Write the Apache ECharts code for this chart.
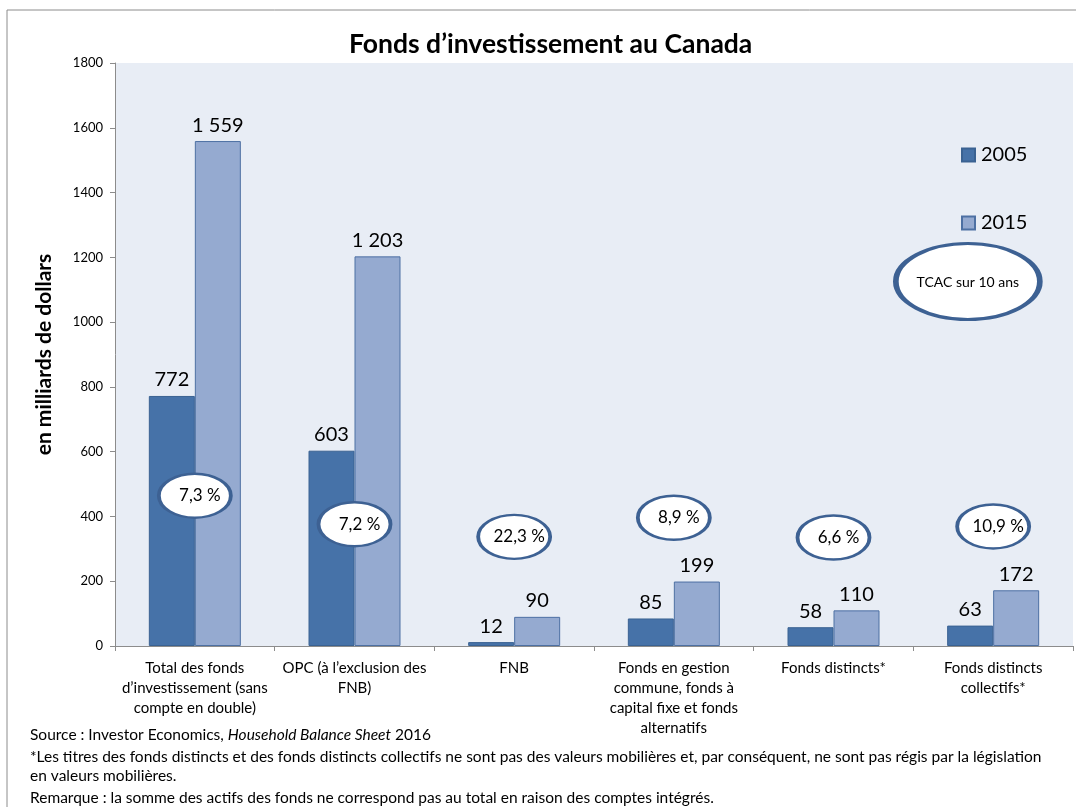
<!DOCTYPE html>
<html lang="fr">
<head>
    <meta charset="utf-8">
    <title>Fonds d’investissement au Canada</title>
    <script src="https://cdn.jsdelivr.net/npm/echarts@6/dist/echarts.min.js"></script>
    <style>
        html, body, #main {
            width: 100%;
            height: 100%;
            margin: 0;
            padding: 0;
            overflow: hidden;
            background-color: #ffffff;
        }
    </style>
</head>
<body>
<div id="main"></div>
<script>
    // données
    var categories = [
        'Total des fonds\nd’investissement (sans\ncompte en double)',
        'OPC (à l’exclusion des\nFNB)',
        'FNB',
        'Fonds en gestion\ncommune, fonds à\ncapital fixe et fonds\nalternatifs',
        'Fonds distincts*',
        'Fonds distincts\ncollectifs*'
    ];
    var values2005 = [772, 603, 12, 85, 58, 63];
    var values2015 = [1559, 1203, 90, 199, 110, 172];
    var tcac = ['7,3 %', '7,2 %', '22,3 %', '8,9 %', '6,6 %', '10,9 %'];
    // hauteur (en unités de l'axe) où sont posées les bulles TCAC
    var tcacLevel = [464, 376, 337, 396, 335, 369];
    var yTicks = [0, 200, 400, 600, 800, 1000, 1200, 1400, 1600, 1800];

    var font = 'Lato';
    var dark = '#4672a8';
    var light = '#95aad0';
    var ring = '#3d6193';

    function fmt(v) {
        var s = String(v);
        if (v >= 1000) s = s.slice(0, s.length - 3) + ' ' + s.slice(-3);
        return s;
    }

    var bubbles = [];
    for (var i = 0; i < tcac.length; i++) {
        bubbles.push([i, tcacLevel[i]]);
    }

    var myChart = echarts.init(document.getElementById('main'));
    var option = {
        backgroundColor: '#ffffff',
        textStyle: {fontFamily: font},
        animation: false,
        title: {
            text: 'Fonds d’investissement au Canada',
            left: 344,
            top: 26,
            textStyle: {fontFamily: font, fontSize: 26.5, fontWeight: 'bold', color: '#000'}
        },
        legend: {
            data: ['2005', '2015'],
            orient: 'vertical',
            left: 956,
            top: 140,
            itemWidth: 13,
            itemHeight: 13,
            itemGap: 48,
            icon: 'rect',
            textStyle: {fontFamily: font, fontSize: 20, color: '#000', padding: [0, 0, 0, 1]}
        },
        grid: {
            left: 115,
            right: 3,
            top: 63,
            bottom: 161,
            show: true,
            backgroundColor: '#e8edf5',
            borderWidth: 0
        },
        xAxis: {
            type: 'category',
            data: categories,
            axisLine: {lineStyle: {color: '#8c8c8c'}},
            axisTick: {show: true, length: 5, lineStyle: {color: '#8c8c8c'}},
            axisLabel: {
                interval: 0,
                margin: 12,
                fontFamily: font,
                fontSize: 15,
                lineHeight: 20,
                color: '#000'
            }
        },
        yAxis: {
            type: 'value',
            min: 0,
            max: 1800,
            interval: 200,
            name: 'en milliards de dollars',
            nameLocation: 'middle',
            nameRotate: 90,
            nameGap: 60,
            nameTextStyle: {fontFamily: font, fontSize: 21, fontWeight: 'bold', color: '#000'},
            axisLine: {show: true, lineStyle: {color: '#8c8c8c'}},
            axisTick: {show: true, length: 5, lineStyle: {color: '#8c8c8c'}},
            splitLine: {show: false},
            axisLabel: {
                margin: 12,
                fontFamily: font,
                fontSize: 13,
                color: '#000',
                formatter: function (v) {
                    return yTicks.indexOf(v) >= 0 ? String(v) : '';
                }
            }
        },
        series: [
            {
                name: '2005',
                type: 'bar',
                data: values2005,
                barWidth: 46,
                barGap: '0%',
                itemStyle: {color: dark, borderColor: '#3a6292', borderWidth: 1},
                label: {
                    show: true,
                    position: 'top',
                    distance: 6,
                    fontFamily: font,
                    fontSize: 20,
                    color: '#000',
                    formatter: function (p) { return fmt(p.value); }
                }
            },
            {
                name: '2015',
                type: 'bar',
                data: values2015,
                barWidth: 46,
                barGap: '0%',
                itemStyle: {color: light, borderColor: '#4d70a3', borderWidth: 1},
                label: {
                    show: true,
                    position: 'top',
                    distance: 6,
                    fontFamily: font,
                    fontSize: 20,
                    color: '#000',
                    formatter: function (p) { return fmt(p.value); }
                }
            },
            {
                name: 'TCAC',
                type: 'scatter',
                data: bubbles,
                symbol: 'circle',
                symbolSize: [72, 44],
                z: 5,
                itemStyle: {color: '#ffffff', borderColor: ring, borderWidth: 3, opacity: 1},
                label: {
                    show: true,
                    position: 'inside',
                    offset: [5, 0],
                    fontFamily: font,
                    fontSize: 17,
                    color: '#000',
                    formatter: function (p) { return tcac[p.dataIndex]; }
                },
                emphasis: {disabled: true}
            }
        ],
        graphic: [
            {
                type: 'rect',
                shape: {x: 7, y: 10, width: 1100, height: 900},
                style: {fill: 'none', stroke: '#8c8c8c', lineWidth: 1},
                silent: true
            },
            {
                type: 'group',
                left: 893,
                top: 242,
                z: 10,
                children: [
                    {
                        type: 'circle',
                        shape: {cx: 0, cy: 0, r: 38},
                        scaleX: 72 / 38,
                        scaleY: 1,
                        x: 75,
                        y: 39,
                        style: {fill: '#ffffff', stroke: ring, lineWidth: 3, strokeNoScale: true}
                    },
                    {
                        type: 'text',
                        x: 75,
                        y: 40,
                        style: {
                            text: 'TCAC sur 10 ans',
                            fontFamily: font,
                            fontSize: 14,
                            fill: '#000',
                            align: 'center',
                            verticalAlign: 'middle'
                        }
                    }
                ]
            },
            {
                type: 'text',
                left: 30,
                top: 727,
                style: {
                    text: '{n|Source : Investor Economics, }{i|Household Balance Sheet}{n| 2016}',
                    rich: {
                        n: {fontFamily: font, fontSize: 15.5, fill: '#000'},
                        i: {fontFamily: font, fontSize: 15.5, fontStyle: 'italic', fill: '#000'}
                    }
                }
            },
            {
                type: 'text',
                left: 30,
                top: 747,
                style: {
                    text: '*Les titres des fonds distincts et des fonds distincts collectifs ne sont pas des valeurs mobilières et, par conséquent, ne sont pas régis par la législation\nen valeurs mobilières.',
                    fontFamily: font,
                    fontSize: 15.5,
                    lineHeight: 19,
                    fill: '#000'
                }
            },
            {
                type: 'text',
                left: 30,
                top: 790,
                style: {
                    text: 'Remarque : la somme des actifs des fonds ne correspond pas au total en raison des comptes intégrés.',
                    fontFamily: font,
                    fontSize: 15.5,
                    fill: '#000'
                }
            }
        ]
    };
    myChart.setOption(option);
</script>
</body>
</html>
